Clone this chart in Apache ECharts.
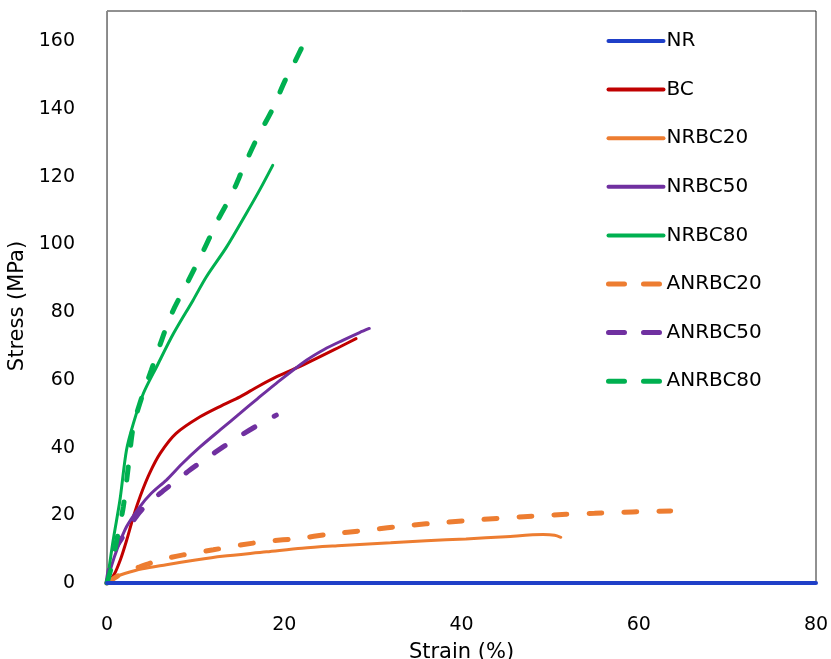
<!DOCTYPE html>
<html>
<head>
<meta charset="utf-8">
<script src="https://cdn.jsdelivr.net/npm/echarts@6/dist/echarts.min.js"></script>
<style>html,body{margin:0;padding:0;background:#fff}#c{width:831px;height:659px}</style>
</head>
<body>
<div id="c"></div>
<script>
var seriesNames = ['NR','BC','NRBC20','NRBC50','NRBC80','ANRBC20','ANRBC50','ANRBC80'];
var xTicks = [0,20,40,60,80];
var yTicks = [0,20,40,60,80,100,120,140,160];

var NR = [[0,0],[80,0]];
var BC = [[0,0],[0.8,2.5],[1.5,6.8],[2.2,12.5],[3,19.8],[3.8,26.0],[4.8,32.4],[6,38.3],[7.8,44.2],[10.5,49.1],[13,52.5],[15,55],[17,58],[19.1,60.9],[22.5,64.9],[26.3,69.8],[28.1,72.2]];
var NRBC20 = [[0,0],[1,1.8],[2,2.8],[4,4.2],[6.7,5.4],[10,6.8],[13,7.9],[18,9.2],[22,10.3],[26,11],[32,11.9],[36,12.5],[40.5,13],[45,13.7],[49.2,14.3],[50.5,14.1],[51.2,13.5]];
var NRBC50 = [[0,0],[0.5,5],[1.1,9.7],[2.2,16.6],[3.7,22.5],[5,26.5],[6.7,30.4],[8.5,35.3],[10.5,40.2],[12.8,45.3],[15,50.1],[17,54.5],[19.1,59],[22.5,65.8],[24.5,69],[26.6,71.7],[28.5,74],[29.6,75.2]];
var NRBC80 = [[0,0],[0.7,12.7],[1.46,24.5],[2.2,39.3],[2.97,47.1],[4.1,56],[5.6,63.9],[7.5,73.7],[9.7,83.5],[11.2,90.4],[13.5,99.3],[15.7,109.1],[17.2,116],[18.7,123.4]];
var ANRBC20 = [[0,0],[1.1,1.9],[2,3.3],[3.7,4.8],[6,6.8],[8.6,8.3],[12,9.8],[15,11.2],[18,12.3],[21.7,13.2],[25,14.4],[29.3,15.6],[34,17],[38,17.9],[42.4,18.8],[47,19.6],[51.8,20.3],[55,20.6],[59.3,21],[63.6,21.3]];
var ANRBC50 = [[0,0],[0.7,8.8],[2,14.5],[3.3,19.6],[4.5,23.2],[6,26.5],[7.7,30],[9.35,33.4],[11.2,36.8],[13.1,40.2],[14.6,42.8],[16.1,45.2],[17.6,47.5],[19.1,49.6]];
var ANRBC80 = [[0,0],[0.5,4.8],[1.2,14],[1.84,22.5],[2.4,34.3],[2.97,46.2],[4,55.5],[5,62.9],[6.2,72],[7.3,79.6],[9.2,89.4],[10.9,98.3],[12.5,107.2],[14.1,115],[15.5,123.4],[17,131.8],[18.6,139.6],[20.1,148.5],[21.2,154],[22.3,160]];

var dataSets = [NR,BC,NRBC20,NRBC50,NRBC80,ANRBC20,ANRBC50,ANRBC80];
var colors = ['#1F3FC8','#C00000','#ED7D31','#7030A0','#00B050','#ED7D31','#7030A0','#00B050'];
var dashed = [false,false,false,false,false,true,true,true];
var FONT = 'DejaVu Sans';

var series = dataSets.map(function(d,i){
  return {
    name: seriesNames[i],
    type: 'line',
    data: d,
    smooth: 0.3,
    symbol: 'none',
    showSymbol: false,
    z: i === 0 ? 10 : 2,
    lineStyle: dashed[i]
      ? {color: colors[i], width: 5, type: [13,22], cap: 'round'}
      : {color: colors[i], width: i === 0 ? 4 : 3, cap: 'round'},
    itemStyle: {color: colors[i]}
  };
});

var legendData = seriesNames.map(function(n,i){
  return {
    name: n,
    itemStyle: {opacity: 0},
    lineStyle: dashed[i]
      ? {color: colors[i], width: 5, type: [16,19], cap: 'round'}
      : {color: colors[i], width: 4, cap: 'round'}
  };
});

var chart = echarts.init(document.getElementById('c'), null, {renderer:'canvas'});
chart.setOption({
  animation: false,
  backgroundColor: '#fff',
  color: colors,
  grid: {left:107, right:15, top:11, bottom:76, show:true, borderColor:'#222', borderWidth:1, backgroundColor:'transparent', outerBoundsMode:'none', containLabel:false},
  legend: {
    orient:'vertical', left:606, top:31, padding:0, itemWidth:55, itemHeight:20, itemGap:28.6,
    data: legendData,
    textStyle:{fontFamily:FONT, fontSize:20, color:'#000', lineHeight:20, padding:[0,0,0,-2]}
  },
  xAxis: {
    type:'value', min:0, max:80, interval:20,
    name:'Strain (%)', nameLocation:'middle', nameGap:59,
    nameTextStyle:{fontFamily:FONT, fontSize:21, color:'#000'},
    axisLine:{show:false}, axisTick:{show:false}, splitLine:{show:false},
    axisLabel:{fontFamily:FONT, fontSize:19, color:'#000', margin:33}
  },
  yAxis: {
    type:'value', min:0, max:169, interval:20,
    name:'Stress (MPa)', nameLocation:'middle', nameGap:72,
    nameTextStyle:{fontFamily:FONT, fontSize:21, color:'#000', padding:[0,18,0,0]},
    axisLine:{show:true, lineStyle:{color:'#888', width:1}}, axisTick:{show:false}, splitLine:{show:false},
    axisLabel:{fontFamily:FONT, fontSize:19, color:'#000', margin:32, showMaxLabel:false}
  },
  series: series
});
</script>
</body>
</html>
